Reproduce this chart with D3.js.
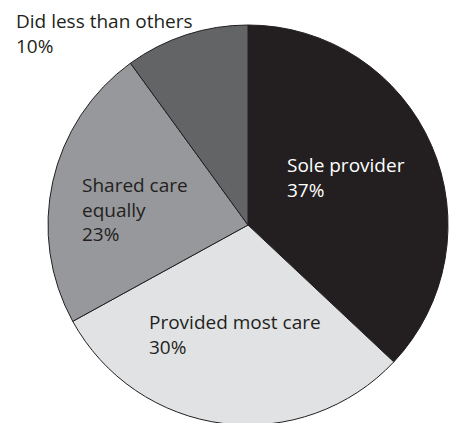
<!DOCTYPE html>
<html>
<head>
<meta charset="utf-8">
<script src="https://cdn.jsdelivr.net/npm/d3@7"></script>
<style>
  html, body { margin: 0; padding: 0; background: #fff; }
  svg { display: block; }
  text { font-family: "Open Sans", "Noto Sans", sans-serif; }
</style>
</head>
<body>
<svg id="chart" width="449" height="423"></svg>
<script>
// Share of caregiving role (percent)
const categories = ["Sole provider", "Provided most care", "Shared care equally", "Did less than others"];
const values = [37, 30, 23, 10];
const labelLines = [["Sole provider"], ["Provided most care"], ["Shared care", "equally"], ["Did less than others"]];
const sliceColors = ["#231f20", "#e1e2e4", "#97989b", "#636466"];
const textColors = ["#ffffff", "#231f20", "#231f20", "#231f20"];

// Layout
const cx = 248, cy = 225, radius = 200;
const fontSize = 19, lineGap = 24.5;
// label anchor (first baseline) relative to pie centre
const labelOffsets = [[39, -53], [-99, 104], [-166, -33], [-232, -197]];

const svg = d3.select("#chart");
const g = svg.append("g").attr("transform", `translate(${cx},${cy})`);

const pie = d3.pie().sort(null).value(d => d.value);
const arc = d3.arc().innerRadius(0).outerRadius(radius);

const data = categories.map((c, i) => ({ name: c, value: values[i], i }));

g.selectAll("path.slice")
  .data(pie(data))
  .join("path")
  .attr("class", "slice")
  .attr("d", arc)
  .attr("fill", d => sliceColors[d.data.i])
  .attr("stroke", "#231f20")
  .attr("stroke-width", 1)
  .attr("stroke-linejoin", "round");

const labels = g.selectAll("text.label")
  .data(data)
  .join("text")
  .attr("class", "label")
  .attr("x", d => labelOffsets[d.i][0])
  .attr("y", d => labelOffsets[d.i][1])
  .attr("fill", d => textColors[d.i])
  .style("font-size", fontSize + "px");

labels.each(function(d) {
  const t = d3.select(this);
  const lines = labelLines[d.i].concat([d.value + "%"]);
  lines.forEach((ln, k) => {
    t.append("tspan")
      .attr("x", labelOffsets[d.i][0])
      .attr("dy", k === 0 ? 0 : lineGap)
      .text(ln);
  });
});
</script>
</body>
</html>
